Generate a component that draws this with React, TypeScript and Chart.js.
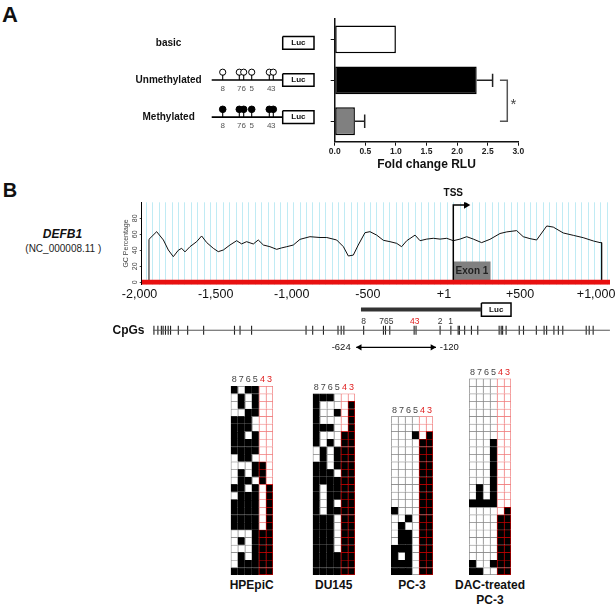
import React, { useEffect, useRef } from 'react';
import { Chart, registerables } from 'chart.js';

Chart.register(...registerables);

const FONT = "'Liberation Sans', Arial, Helvetica, sans-serif";
Chart.defaults.font.family = FONT;
Chart.defaults.color = '#222';

/* ---------------- Panel A: luciferase reporter assay ---------------- */
const constructs = ['basic', 'Unmethylated', 'Methylated'];
const foldChange = [1.0, 2.32, 0.33];
const foldChangeSD = [0, 0.26, 0.16];
const foldTicks = [0, 0.5, 1, 1.5, 2, 2.5, 3];
const barColors = ['#ffffff', '#000000', '#808080'];

/* CpG sites drawn on the reporter inserts (schematic units) */
const siteNames = ['8', '7', '6', '5', '4', '3'];
const siteSchematicPos = [0, 16.6, 21, 29, 46.6, 50.6];
const insertSchematic = [-11, 60];
const lucSchematic = [60, 91.3];
const siteState = ['none', 'unmethylated', 'methylated'];

/* ---------------- Panel B: GC content (bp relative to TSS) ---------------- */
const gcPos = [-1947, -1902, -1902, -1854, -1812, -1781, -1750, -1719, -1698, -1677, -1646, -1604, -1573, -1541,
  -1500, -1469, -1437, -1396, -1354, -1323, -1292, -1250, -1219, -1187, -1146, -1104, -1073, -1041, -1000, -958,
  -896, -833, -791, -729, -687, -656, -625, -594, -552, -521, -479, -437, -396, -354, -323, -291, -239, -208,
  -166, -125, -83, -41, 0, 42, 84, 125, 177, 229, 292, 334, 396, 437, 479, 521, 584, 625, 687, 750, 812, 875,
  917, 927, 927, 979];
const gcPct = [0, 0, 53.7, 63.3, 52.9, 40.4, 32, 40, 42.5, 38, 44.5, 50.8, 57.9, 49.6,
  42.5, 38.3, 40.4, 46.6, 52, 48, 50.8, 47.9, 52.9, 46.6, 44.5, 41.2, 43, 44.5, 46.6, 53.7,
  57, 56, 56, 52.9, 44.5, 32.9, 34, 46.6, 62, 63.3, 59, 52.5, 50.8, 48.7, 44.5, 52, 59, 52,
  54, 55, 54, 55, 52, 54, 57, 54, 49.6, 53.7, 61, 63, 64.6, 57, 54.6, 52.9, 70.4, 69, 61.7, 58.7, 55.8, 51.7,
  49.6, 49.6, 0, 0];
const gcTicks = [0, 20, 40, 60, 80];
const exon1 = [0, 234];
const tssArrowEnd = 80;

const genomicTicks = [-2000, -1500, -1000, -500, 0, 500, 1000];
const genomicTickLabels = ['-2,000', '-1,500', '-1,000', '-500', '+1', '+500', '+1,000'];

const cpgPositions = [-1902, -1877, -1855, -1844, -1829, -1812, -1797, -1748, -1689, -1588, -1393, -1358, -1285,
  -941, -899, -831, -739, -719, -702, -577, -452, -439, -412, -258, -246, -94, -26, 20, 28, 61, 104, 144,
  279, 292, 301, 323, 406, 433, 514, 563, 579, 625, 653, 681, 829, 848, 873];
const cpgLabelText = ['8', '765', '43', '2', '1'];
const cpgLabelPos = [-577, -433, -254, -94, -27];
const cpgLabelAnalysed = [false, false, true, false, false];
const reporterInsert = [-594, 167];
const reporterLuc = [167, 354];
const bisulfiteRegion = [-624, -120];
const bisulfiteLabels = ['-624', '-120'];

/* Bisulfite sequencing: rows = clones, columns = CpG 8,7,6,5,4,3 (1 = methylated) */
const hpepic = ['101100', '010100', '010100', '001100', '111000', '111000', '110100', '111100', '111100',
  '011000', '000110', '010110', '011010', '110101', '011101', '111101', '111101', '111101', '111101',
  '000111', '010111', '000111', '010111', '011111', '111111'];
const du145 = ['111000', '100001', '100101', '100001', '111001', '100011', '101011', '010111', '010111',
  '110111', '111011', '111111', '101111', '101111', '101011', '101111', '111011', '111011', '111011',
  '111011', '111011', '111111', '111111', '111111'];
const pc3 = ['000000', '000000', '000101', '000011', '000011', '000011', '000011', '000011', '000011',
  '000011', '000011', '000011', '100011', '001011', '010011', '011011', '011011', '111011', '101011',
  '111011', '111011'];
const dacPc3 = ['000000', '000000', '000000', '000000', '000000', '000000', '000000', '000000', '000100',
  '000100', '000100', '000100', '000100', '000100', '010100', '010100', '111100', '000001', '000011',
  '000011', '000011', '000011', '000011', '000011', '100111', '110011'];
const cellLines = ['HPEpiC', 'DU145', 'PC-3', 'DAC-treated PC-3'];
const grids = [hpepic, du145, pc3, dacPc3];

/* ---------------- helpers ---------------- */
const font = (size: number, weight = 'normal', style = 'normal') => `${style} ${weight} ${size}px ${FONT}`;

const textPlugin = {
  id: 'textAnnot',
  afterDatasetsDraw(chart: any, _args: any, opts: any) {
    const ctx = chart.ctx;
    (opts.items || []).forEach((it: any) => {
      const px = chart.scales[it.xAxis || 'x'].getPixelForValue(it.x);
      const py = chart.scales[it.yAxis || 'y'].getPixelForValue(it.y);
      ctx.save();
      ctx.font = it.font;
      ctx.fillStyle = it.color || '#111';
      ctx.textAlign = it.align || 'center';
      ctx.textBaseline = 'middle';
      ctx.fillText(it.text, px, py);
      ctx.restore();
    });
  },
};

const errorBarPlugin = {
  id: 'errorBars',
  afterDatasetsDraw(chart: any) {
    const meta = chart.getDatasetMeta(0);
    const xs = chart.scales.x;
    const ctx = chart.ctx;
    ctx.save();
    ctx.strokeStyle = '#222';
    ctx.lineWidth = 1.5;
    foldChange.forEach((m, i) => {
      const sd = foldChangeSD[i];
      if (!sd) return;
      const el = meta.data[i];
      const x0 = xs.getPixelForValue(m);
      const x1 = xs.getPixelForValue(m + sd);
      const cap = el.height * 0.24;
      ctx.beginPath();
      ctx.moveTo(x0, el.y);
      ctx.lineTo(x1, el.y);
      ctx.moveTo(x1, el.y - cap);
      ctx.lineTo(x1, el.y + cap);
      ctx.stroke();
    });
    ctx.restore();
  },
};

const bracketPlugin = {
  id: 'sigBracket',
  afterDatasetsDraw(chart: any, _a: any, opts: any) {
    const meta = chart.getDatasetMeta(0);
    const xs = chart.scales.x;
    const ctx = chart.ctx;
    const y0 = meta.data[opts.from].y;
    const y1 = meta.data[opts.to].y;
    const xa = xs.getPixelForValue(opts.x0);
    const xb = xs.getPixelForValue(opts.x1);
    ctx.save();
    ctx.strokeStyle = '#555';
    ctx.lineWidth = 1.5;
    ctx.beginPath();
    ctx.moveTo(xa, y0);
    ctx.lineTo(xb, y0);
    ctx.lineTo(xb, y1);
    ctx.lineTo(xa, y1);
    ctx.stroke();
    ctx.fillStyle = '#444';
    ctx.font = font(15);
    ctx.textAlign = 'center';
    ctx.textBaseline = 'alphabetic';
    ctx.fillText(opts.label, xs.getPixelForValue(opts.xLabel), (y0 + y1) / 2 + 15 * 0.57);
    ctx.restore();
  },
};

/* vertical background stripes of the GC plot, one per x-scale tick */
const stripePlugin = {
  id: 'stripes',
  beforeDatasetsDraw(chart: any, _a: any, opts: any) {
    const xs = chart.scales.x;
    const { top, bottom, left, right } = chart.chartArea;
    const ctx = chart.ctx;
    ctx.save();
    ctx.strokeStyle = opts.color;
    ctx.lineWidth = 1;
    xs.ticks.forEach((t: any) => {
      const px = Math.round(xs.getPixelForValue(t.value)) + 0.5;
      if (px <= left + 1 || px > right) return;
      ctx.beginPath();
      ctx.moveTo(px, top);
      ctx.lineTo(px, bottom);
      ctx.stroke();
    });
    ctx.restore();
  },
};

const box = (x0: number, x1: number, yc: number, h: number) => [
  { x: x0, y: yc - h }, { x: x1, y: yc - h }, { x: x1, y: yc + h }, { x: x0, y: yc + h }, { x: x0, y: yc - h },
];

const baseOptions = {
  responsive: false,
  animation: false,
  events: [],
};
const noLegend = { legend: { display: false }, tooltip: { enabled: false } };

/* ---------------- chart configs ---------------- */
function barConfig() {
  return {
    type: 'bar',
    data: {
      labels: constructs,
      datasets: [{
        data: foldChange,
        backgroundColor: barColors,
        borderColor: '#000',
        borderWidth: 1.5,
        borderSkipped: false,
        barPercentage: 0.68,
        categoryPercentage: 1,
      }],
    },
    options: {
      ...baseOptions,
      indexAxis: 'y',
      layout: { padding: { left: 0, right: 21.7, top: 19, bottom: 2.8 } },
      plugins: { ...noLegend, sigBracket: { from: 1, to: 2, x0: 2.7, x1: 2.82, xLabel: 2.92, label: '*' } },
      scales: {
        y: {
          type: 'category', offset: true,
          ticks: { display: false },
          grid: { display: true, drawOnChartArea: false, drawTicks: true, tickLength: 4, offset: false, color: '#111' },
          border: { display: true, color: '#111', width: 1.5 },
          afterFit: (s: any) => { s.width = 34.7; },
        },
        x: {
          type: 'linear', min: 0, max: 3,
          afterBuildTicks: (s: any) => { s.ticks = foldTicks.map((v) => ({ value: v })); },
          ticks: { callback: (v: any) => Number(v).toFixed(1), font: { size: 8.5, weight: 'bold' }, color: '#222', padding: 1, maxRotation: 0, autoSkip: false },
          grid: { display: true, drawOnChartArea: false, drawTicks: true, tickLength: 4, color: '#111' },
          border: { display: true, color: '#111', width: 1.5 },
          title: { display: true, text: 'Fold change RLU', font: { size: 12, weight: 'bold' }, color: '#111', padding: 0 },
          afterFit: (s: any) => { s.height = 30.5; },
        },
      },
    },
    plugins: [errorBarPlugin, bracketPlugin],
  };
}

function schematicConfig() {
  const baseline: any[] = [];
  const stems: any[] = [];
  const unmeth: any[] = [];
  const meth: any[] = [];
  const lucBoxes: any[] = [];
  const items: any[] = [];
  siteState.forEach((state, r) => {
    lucBoxes.push(...box(lucSchematic[0], lucSchematic[1], r, 0.17), { x: lucSchematic[0], y: null });
    items.push({ text: 'Luc', x: (lucSchematic[0] + lucSchematic[1]) / 2, y: r, font: font(8, 'bold') });
    if (state === 'none') return;
    baseline.push({ x: insertSchematic[0], y: r }, { x: insertSchematic[1], y: r }, { x: insertSchematic[1], y: null });
    siteSchematicPos.forEach((p, i) => {
      stems.push({ x: p, y: r }, { x: p, y: r - 0.14 }, { x: p, y: null });
      (state === 'methylated' ? meth : unmeth).push({ x: p, y: r - 0.21 });
      items.push({ text: siteNames[i], x: p, y: r + 0.23, font: font(8), color: '#555' });
    });
  });
  const line = { xAxisID: 'x', pointRadius: 0, borderColor: '#000', fill: false };
  return {
    type: 'line',
    data: {
      datasets: [
        { ...line, data: baseline, borderWidth: 1.6 },
        { ...line, data: stems, borderWidth: 1.1 },
        { ...line, data: lucBoxes, borderWidth: 1.5, borderJoinStyle: 'miter' },
        { data: unmeth, showLine: false, pointRadius: 3.1, pointBorderWidth: 1, pointBorderColor: '#000', pointBackgroundColor: '#fff' },
        { data: meth, showLine: false, pointRadius: 3.3, pointBorderWidth: 1, pointBorderColor: '#000', pointBackgroundColor: '#000' },
      ],
    },
    options: {
      ...baseOptions,
      layout: { padding: { left: 0, right: 9, top: 4.2, bottom: 5.8 } },
      plugins: { ...noLegend, textAnnot: { items } },
      scales: {
        x: { type: 'linear', min: -17.7, max: 93.3, display: false },
        y: {
          type: 'linear', min: -0.5, max: 2.5, reverse: true, position: 'left',
          afterBuildTicks: (s: any) => { s.ticks = constructs.map((_, i) => ({ value: i })); },
          ticks: { callback: (v: any) => constructs[v], font: { size: 10, weight: 'bold' }, color: '#111', crossAlign: 'center', padding: 3.3 },
          grid: { display: false, drawTicks: false },
          border: { display: false },
          afterFit: (s: any) => { s.width = 105; },
        },
      },
    },
    plugins: [textPlugin],
  };
}

const GC_MIN = -1947.5;
const GC_MAX = 979.4;
const STRIPE_STEP = 40;
function gcConfig() {
  const pts = gcPos.map((x, i) => ({ x, y: gcPct[i] }));
  return {
    type: 'line',
    data: {
      datasets: [
        { data: [{ x: GC_MIN, y: 0 }, { x: GC_MAX, y: 0 }], borderColor: '#e81010', borderWidth: 5, borderCapStyle: 'butt', pointRadius: 0, order: 0 },
        { data: [{ x: 0, y: 0 }, { x: 0, y: 96.6 }, { x: tssArrowEnd, y: 96.6 }], borderColor: '#000', borderWidth: 1.5, pointRadius: 0, order: 1 },
        { data: [{ x: tssArrowEnd, y: 96.6 }], showLine: false, pointStyle: 'triangle', pointRotation: 90, pointRadius: 4.2, pointBackgroundColor: '#000', pointBorderColor: '#000', pointBorderWidth: 0, order: 1 },
        { data: pts, borderColor: '#111', borderWidth: 1, pointRadius: 0, tension: 0, order: 2 },
        {
          data: [{ x: exon1[0], y: 0 }, { x: exon1[0], y: 26 }, { x: exon1[1], y: 26 }, { x: exon1[1], y: 0 }],
          borderWidth: 0, pointRadius: 0, fill: 'origin', backgroundColor: '#808080', borderColor: '#808080', order: 3,
        },
      ],
    },
    options: {
      ...baseOptions,
      layout: { padding: { left: 0, right: 20, top: 22.3, bottom: 5.3 } },
      plugins: {
        ...noLegend,
        stripes: { color: '#c0ebf4' },
        textAnnot: {
          items: [
            { text: 'TSS', x: 0, y: 111, font: font(10, 'bold') },
            { text: 'Exon 1', x: (exon1[0] + exon1[1]) / 2, y: 14, font: font(10, 'bold'), color: '#222' },
          ],
        },
      },
      scales: {
        x: {
          type: 'linear', min: GC_MIN, max: GC_MAX,
          afterBuildTicks: (s: any) => {
            const t: any[] = [];
            for (let v = Math.ceil(GC_MIN / STRIPE_STEP) * STRIPE_STEP; v < GC_MAX; v += STRIPE_STEP) t.push({ value: v });
            s.ticks = t;
          },
          ticks: { display: false },
          grid: { display: false, drawTicks: false },
          border: { display: false },
          afterFit: (s: any) => { s.height = 0; },
        },
        y: {
          type: 'linear', min: -3, max: 100,
          afterBuildTicks: (s: any) => { s.ticks = gcTicks.map((v) => ({ value: v })); },
          ticks: { font: { size: 7 }, color: '#444', minRotation: 90, maxRotation: 90, crossAlign: 'center', padding: 0.5 },
          grid: { display: true, drawOnChartArea: false, drawTicks: true, tickLength: 2, color: '#444' },
          border: { display: true, color: '#000', width: 1 },
          title: { display: true, text: 'GC Percentage', font: { size: 7 }, color: '#444', padding: { top: 21.8, bottom: 0 } },
          afterFit: (s: any) => { s.width = 41.7; },
        },
      },
    },
    plugins: [stripePlugin, textPlugin],
  };
}

function cpgConfig() {
  const Y = { construct: 1, label: 2.3, cpg: 3.3, arrow: 5.2 };
  const items: any[] = [
    { text: 'Luc', x: (reporterLuc[0] + reporterLuc[1]) / 2, y: Y.construct, font: font(8, 'bold') },
    { text: bisulfiteLabels[0], x: bisulfiteRegion[0] - 35, y: Y.arrow, font: font(9.5), align: 'right' },
    { text: bisulfiteLabels[1], x: bisulfiteRegion[1] + 24, y: Y.arrow, font: font(9.5), align: 'left' },
    { text: 'CpGs', x: -2164, y: Y.cpg, font: font(12, 'bold'), align: 'left' },
  ];
  cpgLabelText.forEach((t, i) => {
    items.push({ text: t, x: cpgLabelPos[i], y: Y.label, font: font(8.5), color: cpgLabelAnalysed[i] ? '#e02020' : '#333' });
  });
  return {
    type: 'line',
    data: {
      datasets: [
        { xAxisID: 'x', data: [{ x: -1908, y: Y.cpg }, { x: 979, y: Y.cpg }], borderColor: '#555', borderWidth: 1, pointRadius: 0 },
        {
          xAxisID: 'x', data: cpgPositions.map((x) => ({ x, y: Y.cpg })), showLine: false,
          pointStyle: 'line', pointRotation: 90, pointRadius: 4.4, pointBorderWidth: 1.1, pointBorderColor: '#222', borderColor: '#222',
        },
        { xAxisID: 'x', data: [{ x: reporterInsert[0], y: Y.construct }, { x: reporterInsert[1], y: Y.construct }], borderColor: '#333', borderWidth: 4, borderCapStyle: 'butt', pointRadius: 0 },
        { xAxisID: 'x', data: box(reporterLuc[0], reporterLuc[1], Y.construct, 0.74), borderColor: '#000', borderWidth: 1.5, borderJoinStyle: 'miter', pointRadius: 0 },
        { xAxisID: 'x', data: [{ x: bisulfiteRegion[0], y: Y.arrow }, { x: bisulfiteRegion[1], y: Y.arrow }], borderColor: '#000', borderWidth: 1.2, pointRadius: 0 },
        {
          xAxisID: 'x', data: [{ x: bisulfiteRegion[0] + 22, y: Y.arrow }, { x: bisulfiteRegion[1] - 22, y: Y.arrow }], showLine: false,
          pointStyle: 'triangle', pointRotation: [270, 90], pointRadius: 3.6, pointBackgroundColor: '#000', pointBorderColor: '#000', pointBorderWidth: 0,
        },
      ],
    },
    options: {
      ...baseOptions,
      layout: { padding: { left: 0, right: 30, top: 0, bottom: 2.8 } },
      plugins: { ...noLegend, textAnnot: { items } },
      scales: {
        x: { type: 'linear', min: -2208, max: 979.4, display: false },
        xg: {
          type: 'linear', position: 'top', min: -2224, max: 1091,
          afterBuildTicks: (s: any) => { s.ticks = genomicTicks.map((v) => ({ value: v })); },
          ticks: { callback: (_v: any, i: number) => genomicTickLabels[i], font: { size: 12.5, lineHeight: 0.9 }, color: '#111', padding: 0, maxRotation: 0, autoSkip: false },
          grid: { display: false, drawTicks: false },
          border: { display: false },
          afterFit: (s: any) => { s.height = 15.6; },
        },
        y: { type: 'linear', min: 0, max: 6, reverse: true, display: false },
      },
    },
    plugins: [textPlugin],
  };
}

const ROW_H = 7.56;
const COL_W = 7;
function gridConfig(rows: string[], padL: number, axisH: number, padB: number) {
  const n = rows.length;
  return {
    type: 'bar',
    data: {
      labels: siteNames,
      datasets: rows.map((row, r) => {
        const cells = row.split('');
        return {
          data: cells.map(() => 1),
          backgroundColor: cells.map((c) => (c === '1' ? '#000000' : '#ffffff')),
          borderColor: cells.map((c, i) => (i < 4 ? (c === '1' ? '#000000' : '#858585') : (c === '1' ? '#c00000' : '#f07a7a'))),
          borderWidth: (ctx: any) => ({ top: 1, left: 1, right: ctx.dataIndex === cells.length - 1 ? 1 : 0, bottom: r === n - 1 ? 1 : 0 }),
          borderSkipped: false,
          barPercentage: 1,
          categoryPercentage: 1,
          inflateAmount: 0.3,
        };
      }),
    },
    options: {
      ...baseOptions,
      layout: { padding: { left: padL, right: 3, top: 0, bottom: padB } },
      plugins: { ...noLegend },
      scales: {
        x: {
          type: 'category', position: 'top', stacked: true, offset: true,
          ticks: { font: { size: 9, lineHeight: 1 }, color: (c: any) => (c.index < 4 ? '#444' : '#e02020'), padding: 1.5, maxRotation: 0, autoSkip: false },
          grid: { display: false, drawTicks: false },
          border: { display: false },
          afterFit: (s: any) => { s.height = axisH; },
        },
        y: { type: 'linear', stacked: true, min: 0, max: n, reverse: true, display: false },
      },
    },
  };
}

/* ---------------- components ---------------- */
function ChartBox({ left, top, width, height, config }: { left: number; top: number; width: number; height: number; config: () => any }) {
  const ref = useRef<HTMLCanvasElement>(null);
  useEffect(() => {
    const chart = new Chart(ref.current as HTMLCanvasElement, config());
    return () => chart.destroy();
  }, []);
  return (
    <div style={{ position: 'absolute', left, top, width, height }}>
      <canvas ref={ref} width={width} height={height} style={{ width, height, display: 'block' }} />
    </div>
  );
}

function Txt({ x, y, size, bold, italic, color, children }: any) {
  return (
    <div style={{
      position: 'absolute', left: x, top: y, transform: 'translate(-50%, -50%)', fontSize: size,
      fontWeight: bold ? 700 : 400, fontStyle: italic ? 'italic' : 'normal', lineHeight: 1,
      whiteSpace: 'nowrap', color: color || '#111', fontFamily: FONT,
    }}>{children}</div>
  );
}

const gridLefts = [230.7, 312.7, 391, 469];
const GRID_BOTTOM = 575;

export default function App() {
  return (
    <div style={{ position: 'absolute', left: 0, top: 0, width: 615, height: 610, overflow: 'hidden', background: '#fff', fontFamily: FONT }}>
      <Txt x={10} y={15} size={22} bold>A</Txt>
      <Txt x={10} y={190} size={20} bold>B</Txt>

      <ChartBox left={100} top={15} width={225} height={130} config={schematicConfig} />
      <ChartBox left={300} top={0} width={240} height={175} config={barConfig} />

      <Txt x={62.5} y={234.3} size={12} bold italic>DEFB1</Txt>
      <Txt x={63.3} y={249.3} size={10} color="#222">(NC_000008.11 )</Txt>

      <ChartBox left={100} top={180} width={530} height={110} config={gcConfig} />
      <ChartBox left={100} top={285} width={540} height={75} config={cpgConfig} />

      {grids.map((rows, g) => {
        const gridTop = GRID_BOTTOM - rows.length * ROW_H;
        const cLeft = Math.round(gridLefts[g] - 3);
        const padL = gridLefts[g] - cLeft;
        const cTop = Math.round(gridTop - 12);
        const axisH = gridTop - cTop;
        const w = Math.ceil(padL + 6 * COL_W + 3);
        const h = Math.ceil(axisH + rows.length * ROW_H + 2);
        const padB = h - axisH - rows.length * ROW_H;
        return (
          <ChartBox key={g} left={cLeft} top={cTop} width={w} height={h}
            config={() => gridConfig(rows, padL, axisH, padB)} />
        );
      })}
      {cellLines.map((name, g) => {
        const cx = gridLefts[g] + 3 * COL_W;
        const parts = name === 'DAC-treated PC-3' ? ['DAC-treated', 'PC-3'] : [name];
        return parts.map((p, k) => (
          <Txt key={`${g}-${k}`} x={cx} y={585 + k * 15} size={12} bold>{p}</Txt>
        ));
      })}
    </div>
  );
}
